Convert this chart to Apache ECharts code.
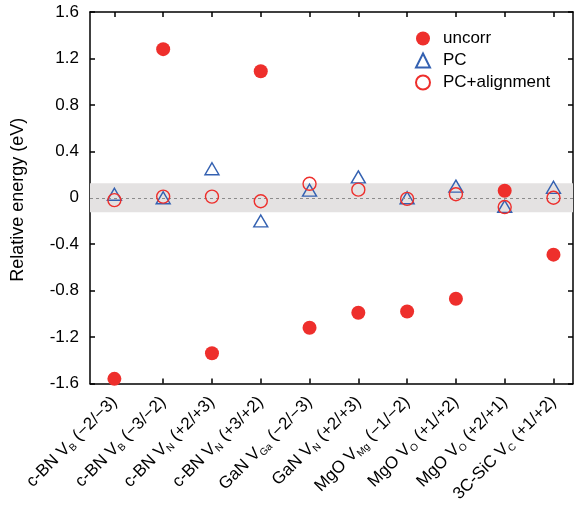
<!DOCTYPE html>
<html>
<head>
<meta charset="utf-8">
<script src="https://cdn.jsdelivr.net/npm/echarts@6/dist/echarts.min.js"></script>
<style>
html,body{margin:0;padding:0;background:#fff;}
#chart{width:577px;height:506px;}
</style>
</head>
<body>
<div id="chart"></div>
<script>
// ---- data ----
var catMain = ['c-BN V', 'c-BN V', 'c-BN V', 'c-BN V', 'GaN V', 'GaN V', 'MgO V', 'MgO V', 'MgO V', '3C-SiC V'];
var catSub = ['B', 'B', 'N', 'N', 'Ga', 'N', 'Mg', 'O', 'O', 'C'];
var catCharge = ['(\u22122/\u22123)', '(\u22123/\u22122)', '(+2/+3)', '(+3/+2)', '(\u22122/\u22123)', '(+2/+3)', '(\u22121/\u22122)', '(+1/+2)', '(+2/+1)', '(+1/+2)'];
var uncorr = [-1.56, 1.28, -1.34, 1.09, -1.12, -0.99, -0.98, -0.87, 0.06, -0.49];
var pc = [0.03, 0.0, 0.25, -0.20, 0.065, 0.18, 0.0, 0.10, -0.075, 0.09];
var pcAlign = [-0.02, 0.01, 0.01, -0.03, 0.12, 0.07, -0.01, 0.03, -0.08, 0.0];
var yTicks = [-1.6, -1.2, -0.8, -0.4, 0, 0.4, 0.8, 1.2, 1.6];
var bandHalf = 0.125;

var xMin = -0.5, xMax = 9.4;
var idx = catMain.map(function (_, i) { return i; });
function pts(arr) { return arr.map(function (v, i) { return [i, v]; }); }

var FONT = '"Liberation Sans", Arial, Helvetica, sans-serif';
var RED = '#ee2f2c', BLUE = '#3461b1';

var chart = echarts.init(document.getElementById('chart'), null, {renderer: 'canvas'});
function axisLine() { return {show: true, onZero: false, lineStyle: {color: '#000', width: 1.5}}; }
chart.setOption({
  animation: false,
  backgroundColor: '#fff',
  textStyle: {fontFamily: FONT},
  grid: {left: 90, right: 4, top: 12, bottom: 122, containLabel: false},
  legend: {
    data: ['uncorr', 'PC', 'PC+alignment'],
    orient: 'vertical', left: 410, top: 25,
    itemWidth: 14, itemHeight: 14, itemGap: 5,
    textStyle: {fontSize: 17, color: '#000', fontFamily: FONT, padding: [0, 0, 0, 8]},
    selectedMode: false
  },
  xAxis: [{
    type: 'value', min: xMin, max: xMax, position: 'bottom',
    axisLine: axisLine(),
    splitLine: {show: false},
    axisTick: {show: true, inside: true, length: 5, customValues: idx, lineStyle: {color: '#000', width: 1.5}},
    axisLabel: {
      customValues: idx, rotate: 45, margin: 16, color: '#000',
      formatter: function (v) {
        var i = Math.round(v);
        return '{n|' + catMain[i] + '}{s|' + catSub[i] + '}{n| ' + catCharge[i] + '}';
      },
      rich: {
        n: {fontSize: 17, fontFamily: FONT, color: '#000', lineHeight: 20},
        s: {fontSize: 10, fontFamily: FONT, color: '#000', verticalAlign: 'bottom', lineHeight: 20}
      }
    }
  }, {
    type: 'value', min: xMin, max: xMax, position: 'top',
    axisLine: axisLine(),
    splitLine: {show: false},
    axisTick: {show: true, inside: true, length: 5, customValues: idx, lineStyle: {color: '#000', width: 1.5}},
    axisLabel: {show: false}
  }],
  yAxis: [{
    type: 'value', min: -1.6, max: 1.6, interval: 0.4, position: 'left',
    name: 'Relative energy (eV)', nameLocation: 'middle', nameGap: 63,
    nameTextStyle: {fontSize: 18, color: '#000', fontFamily: FONT, padding: [0, 4, 0, 0]},
    axisLine: axisLine(),
    splitLine: {show: false},
    axisTick: {show: true, inside: true, length: 5, lineStyle: {color: '#000', width: 1.5}},
    axisLabel: {fontSize: 17, color: '#000', margin: 11, customValues: yTicks}
  }, {
    type: 'value', min: -1.6, max: 1.6, interval: 0.4, position: 'right',
    axisLine: axisLine(),
    splitLine: {show: false},
    axisTick: {show: true, inside: true, length: 5, lineStyle: {color: '#000', width: 1.5}},
    axisLabel: {show: false}
  }],
  series: [{
    name: 'band', type: 'scatter', data: [], z: 1, silent: true,
    markArea: {
      silent: true,
      itemStyle: {color: '#e4e2e2'},
      data: [[{coord: [xMin, -bandHalf]}, {coord: [xMax, bandHalf]}]]
    },
    markLine: {
      silent: true, symbol: 'none',
      label: {show: false},
      lineStyle: {color: '#8c8c8c', width: 1.2, type: [3, 3]},
      data: [{yAxis: 0}]
    }
  }, {
    name: 'uncorr', type: 'scatter', z: 3,
    symbol: 'circle', symbolSize: 14,
    itemStyle: {color: RED, opacity: 1},
    data: pts(uncorr)
  }, {
    name: 'PC', type: 'scatter', z: 4,
    symbol: 'triangle', symbolSize: [14, 12],
    itemStyle: {color: 'rgba(255,255,255,0)', borderColor: BLUE, borderWidth: 1.4, opacity: 1},
    data: pts(pc)
  }, {
    name: 'PC+alignment', type: 'scatter', z: 5,
    symbol: 'circle', symbolSize: 13,
    itemStyle: {color: 'rgba(255,255,255,0)', borderColor: RED, borderWidth: 1.4, opacity: 1},
    data: pts(pcAlign)
  }]
});
</script>
</body>
</html>
